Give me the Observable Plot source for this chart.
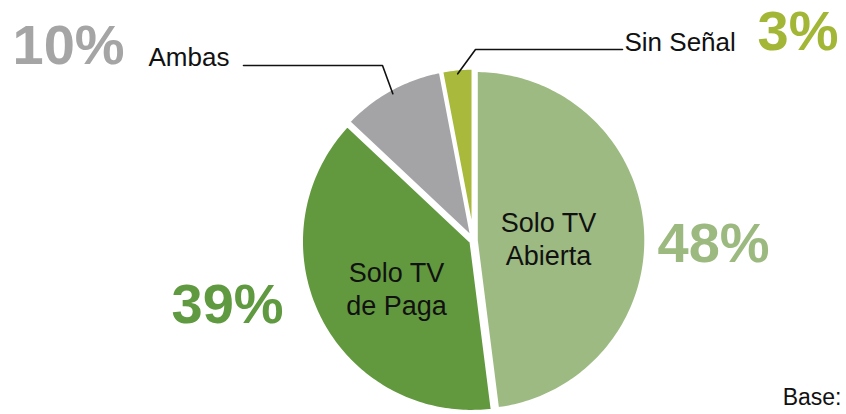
<!DOCTYPE html>
<html><head><meta charset="utf-8">
<script src="https://cdn.jsdelivr.net/npm/d3@7"></script>
<script src="https://cdn.jsdelivr.net/npm/@observablehq/plot@0.6"></script>
<style>body{margin:0;background:#fff;} #chart svg{display:block;}</style>
</head><body><div id="chart"></div>
<script>
// ---- data ----
const categories = ["Solo TV Abierta", "Solo TV de Paga", "Ambas", "Sin Señal"];
const shares = [48, 39, 10, 3];
const percentLabels = ["48%", "39%", "10%", "3%"];
const insideLabels = ["Solo TV\nAbierta", "Solo TV\nde Paga", "", ""];
const calloutLabels = ["", "", "Ambas", "Sin Señal"];
const baseNote = "Base:";

// ---- styles / layout ----
const sliceColors = ["#9dba82", "#62993f", "#a4a4a6", "#a8b93b"];
const percentColors = ["#9cba80", "#5f9a40", "#a5a5a5", "#a3b636"];
const W = 846, H = 414;
const cx = 473, cy = 240, R = 170;
const u = px => (px - cx) / R;
const v = py => (cy - py) / R;
// percent label anchor (left x, middle y) in px
const percentPos = [[657, 244], [171, 305], [12, 46], [757, 32]];
const insidePos = [[548, 237], [396, 287], null, null];
const calloutPos = [null, null, [148, 57], [624, 42]];
// leader: text-side end x, elbow x, elbow y
const leaderPos = [null, null, [243, 382, 65], [622, 475, 49]];

const pie = d3.pie().sort(null).value(d => d)(shares);
const explode = 0.015;
const slicePts = [];
pie.forEach((p, i) => {
  const mid = (p.startAngle + p.endAngle) / 2;
  const ox = explode * Math.sin(mid), oy = explode * Math.cos(mid);
  slicePts.push({cat: categories[i], x: ox, y: oy});
  const n = Math.max(6, Math.ceil((p.endAngle - p.startAngle) / (Math.PI / 180)));
  for (let k = 0; k <= n; k++) {
    const a = p.startAngle + (p.endAngle - p.startAngle) * k / n;
    slicePts.push({cat: categories[i], x: ox + Math.sin(a), y: oy + Math.cos(a)});
  }
});

const percentData = percentLabels.map((t, i) => ({t, cat: categories[i], x: u(percentPos[i][0]), y: v(percentPos[i][1])}));
const insideData = insideLabels.map((t, i) => ({t, i})).filter(d => d.t).map(d => ({t: d.t, x: u(insidePos[d.i][0]), y: v(insidePos[d.i][1])}));
const calloutData = calloutLabels.map((t, i) => ({t, i})).filter(d => d.t).map(d => ({t: d.t, x: u(calloutPos[d.i][0]), y: v(calloutPos[d.i][1])}));
const leaderPts = [];
pie.forEach((p, i) => {
  if (!leaderPos[i]) return;
  const mid = (p.startAngle + p.endAngle) / 2;
  const [x0, xe, ye] = leaderPos[i];
  leaderPts.push({k: i, x: u(x0), y: v(ye)});
  leaderPts.push({k: i, x: u(xe), y: v(ye)});
  leaderPts.push({k: i, x: (explode + 0.97) * Math.sin(mid), y: (explode + 0.97) * Math.cos(mid)});
});

const chart = Plot.plot({
  width: W, height: H,
  margin: 0,
  style: {fontFamily: "'Liberation Sans', Arial, sans-serif", background: "#fff"},
  x: {domain: [u(0), u(W)], range: [0, W], axis: null},
  y: {domain: [v(H), v(0)], range: [H, 0], axis: null},
  color: {domain: categories, range: sliceColors},
  marks: [
    Plot.line(slicePts, {x: "x", y: "y", z: "cat", fill: "cat", stroke: "white", strokeWidth: 3.5, curve: "linear-closed"}),
    Plot.line(leaderPts, {x: "x", y: "y", z: "k", stroke: "#111", strokeWidth: 1.6}),
    Plot.text(percentData, {x: "x", y: "y", text: "t", fill: (d, i) => percentColors[i], textAnchor: "start", fontSize: 56, fontWeight: "bold"}),
    Plot.text(insideData, {x: "x", y: "y", text: "t", fill: "#111", textAnchor: "middle", fontSize: 27, lineHeight: 1.22}),
    Plot.text(calloutData, {x: "x", y: "y", text: "t", fill: "#111", textAnchor: "start", fontSize: 26}),
    Plot.text([baseNote], {x: u(841), y: v(397), text: d => d, fill: "#111", textAnchor: "end", fontSize: 23})
  ]
});
document.getElementById("chart").appendChild(chart);
</script>
</body></html>
